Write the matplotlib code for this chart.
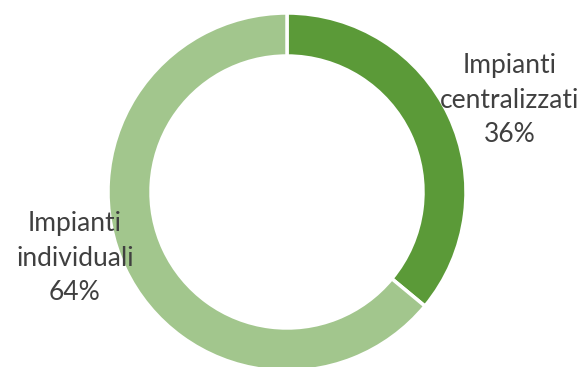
import matplotlib.pyplot as plt

labels = ['Impianti\ncentralizzati\n36%', 'Impianti\nindividuali\n64%']
shares = [36, 64]
colors = ['#5b9a38', '#a2c68d']

W, H = 580, 367
fig = plt.figure(figsize=(W / 100, H / 100), dpi=100)
ax = fig.add_axes([0, 0, 1, 1])

cx, cy, r = 287, H - 192, 179
ax.pie(shares, colors=colors, startangle=90, counterclock=False,
       center=(cx, cy), radius=r, frame=True,
       wedgeprops=dict(width=43, edgecolor='white', linewidth=2.5))
ax.set_xlim(0, W)
ax.set_ylim(0, H)
ax.set_aspect('equal')
ax.axis('off')

ax.text(510, H - 100, labels[0], ha='center', va='center', fontsize=19,
        family='Lato', color='#404040', linespacing=1.5)
ax.text(75, H - 258, labels[1], ha='center', va='center', fontsize=19,
        family='Lato', color='#404040', linespacing=1.5)

fig.savefig('out.png', dpi=100)
